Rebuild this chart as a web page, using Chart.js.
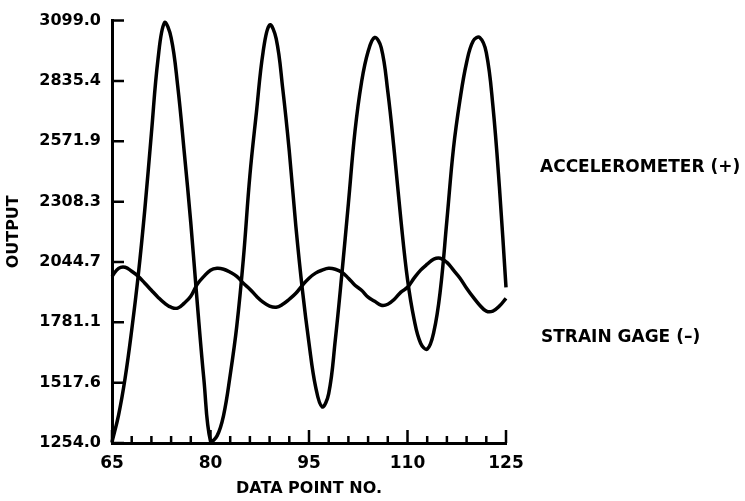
<!DOCTYPE html>
<html>
<head>
<meta charset="utf-8">
<title>Output vs Data Point No.</title>
<script src="https://cdn.jsdelivr.net/npm/chart.js@4.4.1/dist/chart.umd.min.js"></script>
<style>
  html, body { margin: 0; padding: 0; background: #fff; }
  #wrap { width: 745px; height: 501px; position: relative; }
</style>
</head>
<body>
<div id="wrap"><canvas id="chart"></canvas></div>
<script>
'use strict';

const dataPoints = [65, 66, 67, 68, 69, 70, 71, 72, 73, 74, 75, 76, 77, 78, 79, 80,
  81, 82, 83, 84, 85, 86, 87, 88, 89, 90, 91, 92, 93, 94, 95, 96, 97, 98, 99, 100,
  101, 102, 103, 104, 105, 106, 107, 108, 109, 110, 111, 112, 113, 114, 115, 116,
  117, 118, 119, 120, 121, 122, 123, 124, 125];

const accelerometer = [1258, 1376, 1538, 1747, 1987, 2275, 2606, 2929, 3090, 3025,
  2815, 2525, 2215, 1860, 1530, 1262, 1285, 1376, 1551, 1764, 2057, 2423, 2700,
  2960, 3080, 3020, 2802, 2528, 2200, 1921, 1690, 1500, 1412, 1470, 1703, 1991,
  2301, 2615, 2830, 2964, 3025, 2981, 2789, 2523, 2227, 1969, 1795, 1690, 1664,
  1738, 1921, 2227, 2541, 2754, 2916, 3010, 3025, 2959, 2728, 2371, 1934];

const strainGage = [1982, 2017, 2022, 2004, 1982, 1952, 1921, 1891, 1865, 1847,
  1843, 1865, 1895, 1948, 1982, 2009, 2017, 2013, 2000, 1982, 1952, 1926, 1895,
  1869, 1852, 1847, 1860, 1882, 1908, 1943, 1974, 1996, 2009, 2017, 2013, 2000,
  1974, 1943, 1921, 1891, 1873, 1856, 1860, 1882, 1913, 1934, 1974, 2009, 2035,
  2057, 2061, 2043, 2009, 1974, 1930, 1891, 1856, 1830, 1830, 1852, 1886];

const outputTicks = [1254.0, 1517.6, 1781.1, 2044.7, 2308.3, 2571.9, 2835.4, 3099.0];
const pointTicks = [65, 68, 71, 74, 77, 80, 83, 86, 89, 92, 95, 98, 101, 104, 107,
  110, 113, 116, 119, 122, 125];
const pointLabels = [65, 80, 95, 110, 125];
const seriesNames = ['ACCELEROMETER (+)', 'STRAIN GAGE (\u2013)'];

const FONT = 'DejaVu Sans';

// tick marks point into the plot, so draw them by hand off the scales
const inwardTicks = {
  id: 'inwardTicks',
  afterDatasetsDraw(chart) {
    const ctx = chart.ctx;
    const xs = chart.scales.x;
    const ys = chart.scales.y;
    ctx.save();
    ctx.strokeStyle = '#000';
    ctx.lineWidth = 2.5;
    ctx.beginPath();
    ys.ticks.forEach(t => {
      const py = ys.getPixelForValue(t.value);
      ctx.moveTo(xs.left, py);
      ctx.lineTo(xs.left + 12, py);
    });
    xs.ticks.forEach(t => {
      const px = xs.getPixelForValue(t.value);
      const len = pointLabels.includes(t.value) ? 13 : 7;
      ctx.moveTo(px, ys.bottom);
      ctx.lineTo(px, ys.bottom - len);
    });
    ctx.stroke();
    ctx.restore();
  }
};

// curve names sit to the right of the plot
const sideNames = {
  id: 'sideNames',
  afterDraw(chart) {
    const ctx = chart.ctx;
    const left = chart.chartArea.right + 34;
    ctx.save();
    ctx.fillStyle = '#000';
    ctx.font = 'bold 17px "' + FONT + '"';
    ctx.textBaseline = 'middle';
    ctx.textAlign = 'left';
    ctx.fillText(seriesNames[0], left, 168);
    ctx.fillText(seriesNames[1], left + 1, 338);
    ctx.restore();
  }
};

const canvasEl = document.getElementById('chart');

function drawChart() {
  return new Chart(canvasEl, {
    type: 'line',
    data: {
      labels: dataPoints,
      datasets: [{
        label: seriesNames[0],
        data: accelerometer,
        borderColor: '#000',
        borderWidth: 3.5,
        pointRadius: 0,
        tension: 0.4,
        clip: false
      }, {
        label: seriesNames[1],
        data: strainGage,
        borderColor: '#000',
        borderWidth: 3.5,
        pointRadius: 0,
        tension: 0.4,
        clip: false
      }]
    },
    options: {
      responsive: true,
      maintainAspectRatio: false,
      animation: false,
      layout: { padding: { left: 0, top: 20, right: 239, bottom: 0 } },
      plugins: {
        legend: { display: false },
        tooltip: { enabled: false }
      },
      scales: {
        x: {
          type: 'linear',
          min: 65,
          max: 125,
          afterBuildTicks: scale => { scale.ticks = pointTicks.map(v => ({ value: v })); },
          afterFit: scale => { scale.height = 58; },
          grid: { display: false, drawTicks: false },
          border: { display: true, color: '#000', width: 3 },
          ticks: {
            autoSkip: false,
            maxRotation: 0,
            padding: 10,
            color: '#000',
            font: { family: FONT, size: 17, weight: 'bold' },
            callback: v => pointLabels.includes(v) ? String(v) : ''
          },
          title: {
            display: true,
            text: 'DATA POINT NO.',
            color: '#000',
            font: { family: FONT, size: 16, weight: 'bold' },
            padding: { top: 0, bottom: 3 }
          }
        },
        y: {
          min: 1254.0,
          max: 3099.0,
          afterBuildTicks: scale => { scale.ticks = outputTicks.map(v => ({ value: v })); },
          afterFit: scale => { scale.width = 112; },
          grid: { display: false, drawTicks: false },
          border: { display: true, color: '#000', width: 3 },
          ticks: {
            padding: 11,
            color: '#000',
            font: { family: FONT, size: 16, weight: 'bold' },
            callback: v => v.toFixed(1)
          },
          title: {
            display: true,
            text: 'OUTPUT',
            color: '#000',
            font: { family: FONT, size: 16, weight: 'bold' },
            padding: { top: 4, bottom: 0 }
          }
        }
      }
    },
    plugins: [inwardTicks, sideNames]
  });
}

drawChart();
</script>
</body>
</html>
